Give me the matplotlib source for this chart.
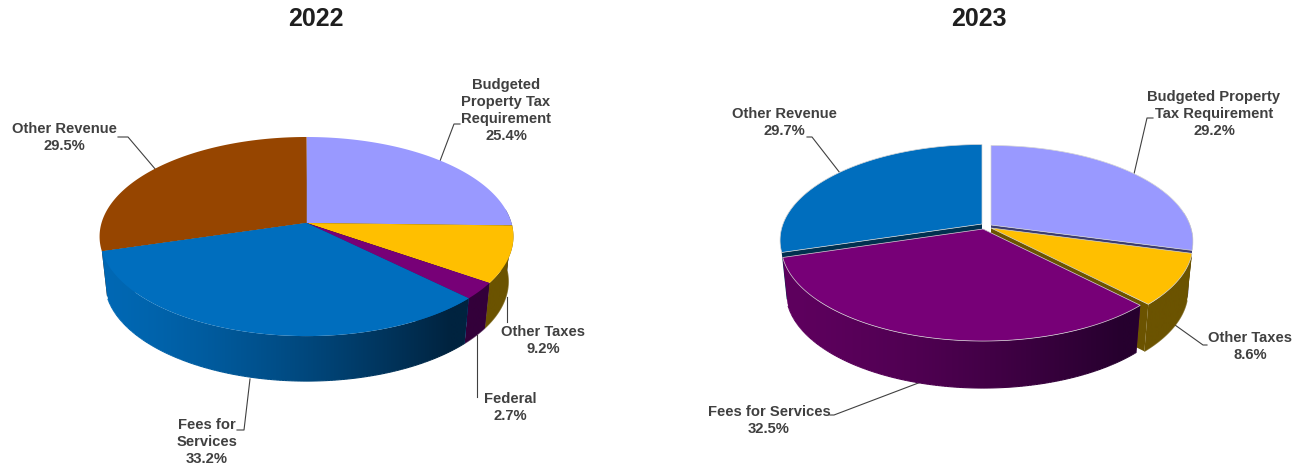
import numpy as np
import matplotlib
matplotlib.use("Agg")
import matplotlib.pyplot as plt
from matplotlib.collections import LineCollection
from matplotlib.colors import to_rgb
from matplotlib.patches import Polygon

plt.rcParams['font.family'] = ['Liberation Sans', 'DejaVu Sans']

names_2022 = ["Budgeted Property Tax Requirement", "Other Taxes", "Federal", "Fees for Services", "Other Revenue"]
values_2022 = [25.4, 9.2, 2.7, 33.2, 29.5]
labels_2022 = ["Budgeted\nProperty Tax\nRequirement\n25.4%", "Other Taxes\n9.2%", "Federal\n2.7%",
               "Fees for\nServices\n33.2%", "Other Revenue\n29.5%"]

names_2023 = ["Budgeted Property Tax Requirement", "Other Taxes", "Fees for Services", "Other Revenue"]
values_2023 = [29.2, 8.6, 32.5, 29.7]
labels_2023 = ["Budgeted Property\nTax Requirement\n29.2%", "Other Taxes\n8.6%",
               "Fees for Services\n32.5%", "Other Revenue\n29.7%"]

# top colour, wall colour at the left, wall colour at the right
colours_2022 = {
    "Budgeted Property Tax Requirement": ("#9999FF", "#3C3C70", "#3C3C70"),
    "Other Taxes": ("#FFBF00", "#6B5300", "#6B5300"),
    "Federal": ("#770077", "#33003A", "#33003A"),
    "Fees for Services": ("#006EBE", "#0068B4", "#00233F"),
    "Other Revenue": ("#964500", "#5A2A00", "#5A2A00"),
}
colours_2023 = {
    "Budgeted Property Tax Requirement": ("#9999FF", "#3C3C70", "#3C3C70"),
    "Other Taxes": ("#FFBF00", "#6B5300", "#6B5300"),
    "Fees for Services": ("#770077", "#5E005E", "#26002E"),
    "Other Revenue": ("#006EBE", "#00304F", "#00304F"),
}


def project(theta, apex, r, a, k):
    u = np.sin(theta)
    v = np.cos(theta)
    s = 1 / (1 + k * v)
    return np.column_stack([apex[0] + r * u * s, apex[1] - a * v * s])


def draw_slice(ax, t0, t1, apex, shape, cols, edge):
    r, a, k, drop = shape
    low = (apex[0], apex[1] + drop)
    th = np.linspace(t0, t1, 160)
    top = project(th, apex, r, a, k)
    bot = project(th, low, r * 0.975, a, k)

    # cut faces
    for i in [0, -1]:
        ax.add_patch(Polygon([apex, top[i], bot[i], low], fc=cols[1], ec="none", zorder=ax.z))
        ax.z += 1

    # outer wall, shaded from left to right, only the part facing us
    front = (np.cos(th) < -0.3) | ((np.sin(th) > 0) & (np.cos(th) < 0.15))
    if front.sum() > 1:
        c0 = np.array(to_rgb(cols[1]))
        c1 = np.array(to_rgb(cols[2]))
        x0 = apex[0] - r * 1.0
        x1 = apex[0] + r * 1.05
        f = np.clip(np.linspace(0, 2.05 * r, 256) / (1.7 * r), 0, 1)[:, None] ** 1.4
        grad = (c0 + (c1 - c0) * f)[None, :, :]
        wall = Polygon(np.vstack([top[front], bot[front][::-1]]), transform=ax.transData, fc="none", ec="none")
        ax.add_patch(wall)
        im = ax.imshow(grad, extent=(x0, x1, 470, 0), aspect="auto", zorder=ax.z,
                       interpolation="bilinear")
        im.set_clip_path(wall)
        # a soft outline along the lower rim, the clip path alone is jagged
        b = bot[front]
        fb = np.clip((b[:-1, 0] - x0) / (1.7 * r), 0, 1)[:, None] ** 1.4
        segs = np.stack([b[:-1], b[1:]], axis=1)
        ax.add_collection(LineCollection(segs, colors=c0 + (c1 - c0) * fb, linewidths=0.8, zorder=ax.z))
        ax.z += 1

    ax.add_patch(Polygon(np.vstack([[apex], top]), fc=cols[0], ec=edge, lw=0.5, zorder=ax.z))
    ax.z += 1


def draw_pie(ax, names, values, colours, apexes, shape, edge="none"):
    ends = np.cumsum(values) / sum(values) * 2 * np.pi
    starts = np.concatenate([[0], ends[:-1]])
    order = np.argsort(-np.cos((starts + ends) / 2))
    for i in order:
        draw_slice(ax, starts[i], ends[i], apexes[names[i]], shape, colours[names[i]], edge)


fig = plt.figure(figsize=(13.01, 4.70), dpi=100)
ax = fig.add_axes([0, 0, 1, 1])
ax.axis("off")
ax.z = 2

apex_2022 = {n: (306.5, 223) for n in names_2022}
apex_2023 = {
    "Budgeted Property Tax Requirement": (991, 225),
    "Other Taxes": (991, 228),
    "Fees for Services": (983, 229),
    "Other Revenue": (982, 224),
}
draw_pie(ax, names_2022, values_2022, colours_2022, apex_2022, (205, 97.7, 0.136, 45))
draw_pie(ax, names_2023, values_2023, colours_2023, apex_2023, (199, 93, 0.17, 47), edge="#D5D5D5")

ax.set_xlim(0, 1301)
ax.set_ylim(470, 0)

ax.text(316, 19, "2022", ha="center", va="center", fontsize=18, fontweight="bold", color="#1F1F1F")
ax.text(979, 19, "2023", ha="center", va="center", fontsize=18, fontweight="bold", color="#1F1F1F")

label_xy_2022 = [(506, 110.5), (543, 340.5), (510, 407.5), (207, 442), (64, 137.5)]
label_xy_2023 = [(1214, 114), (1250, 346.5), (769, 420.5), (784, 122.5)]
for txt, xy in zip(labels_2022 + labels_2023, label_xy_2022 + label_xy_2023):
    ax.text(xy[0], xy[1], txt, ha="center", va="center", multialignment="center", fontsize=10.6,
            fontweight="bold", color="#404040", linespacing=1.26, zorder=1000)

leaders = [
    [(440, 161), (454, 124), (460, 124)],
    [(156, 170), (128, 137), (118, 137)],
    [(507, 297), (507, 322)],
    [(477, 335), (477, 397)],
    [(250, 379), (244, 430), (237, 430)],
    [(1134, 174), (1147, 118), (1153, 118)],
    [(840, 173), (812, 137), (807, 137)],
    [(1175, 325), (1203, 345), (1207, 345)],
    [(921, 382), (834, 415), (830, 415)],
]
for line in leaders:
    p = np.array(line)
    ax.plot(p[:, 0], p[:, 1], color="#404040", lw=0.8, zorder=1)

fig.savefig("out.png", dpi=100)
